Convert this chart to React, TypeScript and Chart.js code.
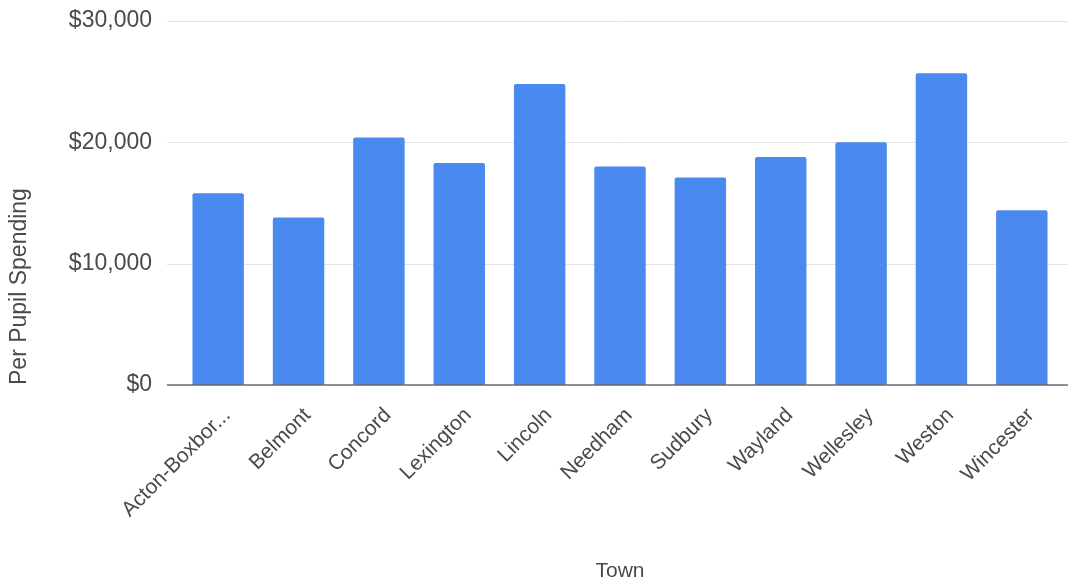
import React, { useEffect, useRef } from "react";
import { Chart, registerables } from "chart.js";

Chart.register(...registerables);

const towns = [
  "Acton-Boxbor...",
  "Belmont",
  "Concord",
  "Lexington",
  "Lincoln",
  "Needham",
  "Sudbury",
  "Wayland",
  "Wellesley",
  "Weston",
  "Wincester",
];
const spending = [15800, 13800, 20400, 18300, 24800, 18000, 17100, 18800, 20000, 25700, 14400];
const yTickValues = [0, 10000, 20000, 30000];

const FONT = '"Liberation Sans", Arial, sans-serif';
const TEXT = "#4a4a4a";
const GRID_LEFT = 167;

const gridPlugin = {
  id: "extendedGrid",
  beforeDatasetsDraw(chart: any) {
    const { ctx } = chart;
    const y = chart.scales.y;
    ctx.save();
    ctx.strokeStyle = "#e2e2e2";
    ctx.lineWidth = 1;
    yTickValues.forEach((v) => {
      if (v === 0) return;
      const py = Math.round(y.getPixelForValue(v)) + 0.5;
      ctx.beginPath();
      ctx.moveTo(GRID_LEFT, py);
      ctx.lineTo(chart.width, py);
      ctx.stroke();
    });
    ctx.restore();
  },
  afterDatasetsDraw(chart: any) {
    const { ctx } = chart;
    const y = chart.scales.y;
    ctx.save();
    ctx.strokeStyle = "#6a6a6a";
    ctx.lineWidth = 1.5;
    const py = y.getPixelForValue(0);
    ctx.beginPath();
    ctx.moveTo(GRID_LEFT, py);
    ctx.lineTo(chart.width, py);
    ctx.stroke();
    ctx.restore();
  },
};

export default function App() {
  const ref = useRef<HTMLCanvasElement>(null);

  useEffect(() => {
    if (!ref.current) return;
    const chart = new Chart(ref.current, {
      type: "bar",
      data: {
        labels: towns,
        datasets: [
          {
            label: "Per Pupil Spending",
            data: spending,
            backgroundColor: "#4a89f0",
            barPercentage: 0.64,
            categoryPercentage: 1.0,
            borderRadius: 2,
          },
        ],
      },
      options: {
        responsive: false,
        animation: false,
        layout: { padding: { top: 21, right: 6, left: 0, bottom: 0 } },
        plugins: {
          legend: { display: false },
          tooltip: { enabled: false },
        },
        scales: {
          x: {
            type: "category",
            offset: true,
            grid: { display: false },
            border: { display: false },
            ticks: {
              autoSkip: false,
              maxRotation: 45,
              minRotation: 45,
              padding: 10,
              labelOffset: 9,
              color: TEXT,
              font: { family: FONT, size: 21 },
            },
            title: {
              display: true,
              text: "Town",
              color: TEXT,
              font: { family: FONT, size: 21 },
              padding: { top: 0, bottom: 0 },
            },
            afterFit: (s: any) => {
              s.height = 199;
              s.paddingLeft = 0;
              s.paddingRight = 0;
              s.paddingTop = 0;
              s.paddingBottom = 0;
            },
          },
          y: {
            min: 0,
            max: 30000,
            afterBuildTicks: (s: any) => {
              s.ticks = yTickValues.map((v) => ({ value: v }));
            },
            grid: { display: false },
            border: { display: false },
            ticks: {
              padding: 18,
              color: TEXT,
              font: { family: FONT, size: 23 },
              callback: (v: any) => "$" + Number(v).toLocaleString("en-US"),
            },
            title: {
              display: true,
              text: "Per Pupil Spending",
              align: "start",
              color: TEXT,
              font: { family: FONT, size: 23 },
              padding: { top: 6, bottom: 0 },
            },
            afterFit: (s: any) => {
              s.width = 178;
              s.paddingTop = 0;
              s.paddingBottom = 0;
              s.paddingLeft = 0;
              s.paddingRight = 0;
            },
          },
        },
      },
      plugins: [gridPlugin],
    });
    return () => chart.destroy();
  }, []);

  return (
    <div style={{ position: "fixed", left: 0, top: 0, width: 1068, height: 584, background: "#fff" }}>
      <canvas ref={ref} width={1068} height={584} style={{ display: "block" }} />
    </div>
  );
}
